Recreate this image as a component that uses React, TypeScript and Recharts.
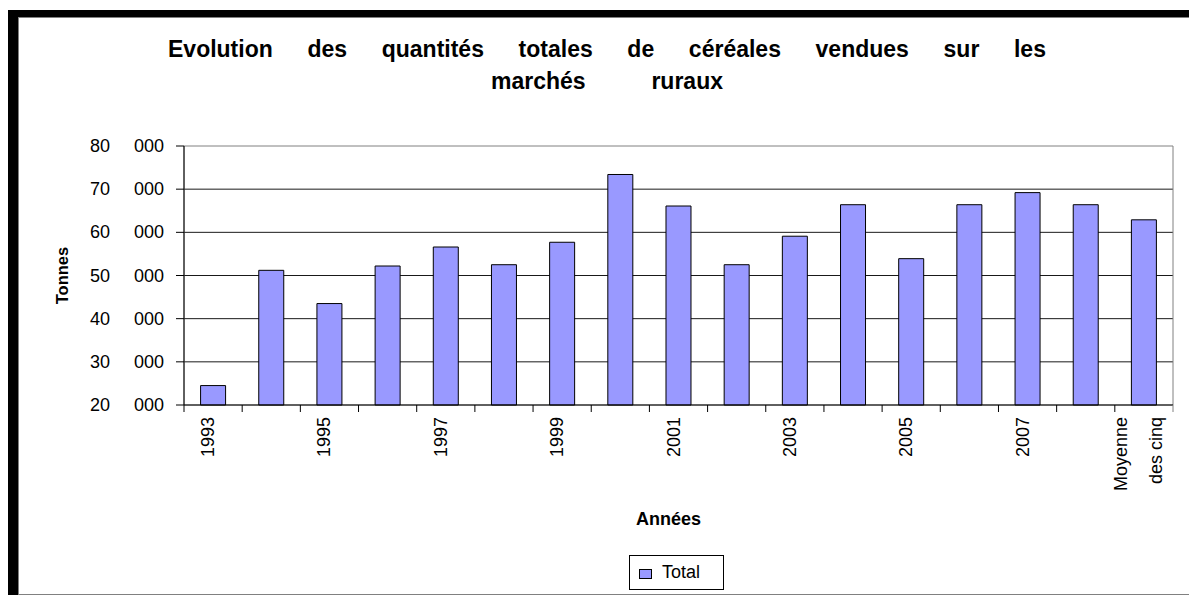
import { BarChart, Bar, XAxis, YAxis, CartesianGrid, ReferenceArea } from 'recharts'

const categories = [
  '1993', '1994', '1995', '1996', '1997', '1998', '1999', '2000', '2001',
  '2002', '2003', '2004', '2005', '2006', '2007', '2008', 'Moyenne des cinq',
]
const totals = [
  24500, 51200, 43500, 52200, 56600, 52500, 57700, 73400, 66100,
  52500, 59100, 66400, 53900, 66400, 69200, 66400, 62900,
]
const yTicks = [20000, 30000, 40000, 50000, 60000, 70000, 80000]
const titleLine1 = ['Evolution', 'des', 'quantités', 'totales', 'de', 'céréales', 'vendues', 'sur', 'les']
const titleLine2 = ['marchés', 'ruraux']
const wrappedLabels: Record<string, string[]> = { 'Moyenne des cinq': ['Moyenne', 'des cinq'] }

const data = categories.map((name, i) => ({ name, Total: totals[i] }))

const W = 1189
const H = 595
const PLOT_LEFT = 184
const PLOT_RIGHT = 1173
const BAND = (PLOT_RIGHT - PLOT_LEFT) / categories.length
const FONT = '"Liberation Sans", Arial, sans-serif'
const BAR_FILL = '#9999ff'

function YTick(props: any) {
  const { x, y, payload } = props
  return (
    <g fontFamily={FONT} fontSize={18} fill="#000">
      <text x={x - 54} y={y} textAnchor="end" dominantBaseline="central">
        {payload.value / 1000}
      </text>
      <text x={x} y={y} textAnchor="end" dominantBaseline="central">
        000
      </text>
    </g>
  )
}

function XTick(props: any) {
  const { x, y, payload, index } = props
  const lines = wrappedLabels[payload.value] || [payload.value]
  const cx = x - 5
  const ty = y + 12
  const isLast = index === categories.length - 1
  return (
    <g>
      <line x1={x - BAND / 2} x2={x - BAND / 2} y1={y} y2={y + 7} stroke="#000" />
      {isLast && <line x1={x + BAND / 2} x2={x + BAND / 2} y1={y} y2={y + 7} stroke="#808080" />}
      {index % 2 === 0 &&
        lines.map((ln, k) => {
          const lx = cx + (k - (lines.length - 1) / 2) * 35
          return (
            <text
              key={k}
              x={lx}
              y={ty}
              transform={`rotate(-90, ${lx}, ${ty})`}
              textAnchor="end"
              dominantBaseline="central"
              fontFamily={FONT}
              fontSize={18}
              fill="#000"
            >
              {ln}
            </text>
          )
        })}
    </g>
  )
}

function LegendBox() {
  return (
    <div
      style={{
        position: 'absolute',
        left: 629,
        top: 555,
        boxSizing: 'border-box',
        width: 95,
        height: 35,
        border: '1px solid #000',
        background: '#fff',
        display: 'flex',
        alignItems: 'center',
        paddingLeft: 9,
        fontFamily: FONT,
        fontSize: 18,
        color: '#000',
      }}
    >
      <span
        style={{
          display: 'inline-block',
          width: 11,
          height: 8,
          background: BAR_FILL,
          border: '1px solid #000',
          marginRight: 10,
          marginTop: 2,
        }}
      />
      Total
    </div>
  )
}

const titleStyle = {
  position: 'absolute' as const,
  display: 'flex',
  justifyContent: 'space-between',
  fontFamily: FONT,
  fontWeight: 'bold' as const,
  fontSize: 23,
  lineHeight: '26px',
  color: '#000',
}

export default function App() {
  return (
    <div style={{ position: 'absolute', left: 0, top: 0, width: W, height: H, overflow: 'hidden', background: '#fff' }}>
      {/* frame */}
      <div
        style={{
          position: 'absolute',
          left: 8,
          top: 10,
          width: W,
          height: H,
          borderLeft: '10px solid #000',
          borderTop: '7px solid #000',
        }}
      />
      <div
        style={{
          position: 'absolute',
          boxSizing: 'border-box',
          left: 18,
          top: 17,
          width: W,
          height: 595 - 17,
          borderLeft: '1px solid #808080',
          borderTop: '1px solid #808080',
          borderBottom: '1px solid #808080',
        }}
      />

      {/* title */}
      <div style={{ ...titleStyle, left: 168, top: 36, width: 878 }}>
        {titleLine1.map((w) => (
          <span key={w}>{w}</span>
        ))}
      </div>
      <div style={{ ...titleStyle, left: 491, top: 68, width: 232 }}>
        {titleLine2.map((w) => (
          <span key={w}>{w}</span>
        ))}
      </div>

      <div style={{ position: 'absolute', left: 0, top: 0 }}>
        <BarChart
          width={W}
          height={H}
          data={data}
          margin={{ top: 146, right: W - PLOT_RIGHT, bottom: 80, left: 84 }}
          barCategoryGap="28.5%"
        >
          <ReferenceArea
            x1={categories[0]}
            x2={categories[categories.length - 1]}
            y1={20000}
            y2={80000}
            stroke="#808080"
            strokeWidth={1}
            fill="none"
            fillOpacity={0}
            ifOverflow="visible"
          />
          <CartesianGrid vertical={false} horizontal stroke="#000" strokeOpacity={0.9} horizontalValues={yTicks.slice(1, -1)} />
          <XAxis
            dataKey="name"
            interval={0}
            height={110}
            tickSize={0}
            tickMargin={0}
            tickLine={false}
            axisLine={{ stroke: '#000' }}
            tick={<XTick />}
            label={{
              value: 'Années',
              position: 'insideBottom',
              offset: 0,
              dy: 10,
              dx: -10,
              style: { fontFamily: FONT, fontWeight: 'bold', fontSize: 18, fill: '#000' },
            }}
          />
          <YAxis
            width={100}
            domain={[20000, 80000]}
            ticks={yTicks}
            interval={0}
            tickSize={8}
            tickMargin={12}
            tickLine={{ stroke: '#000' }}
            axisLine={{ stroke: '#000' }}
            tick={<YTick />}
            label={{
              value: 'Tonnes',
              angle: -90,
              position: 'insideLeft',
              offset: 0,
              dx: -22,
              style: { fontFamily: FONT, fontWeight: 'bold', fontSize: 16.5, fill: '#000', textAnchor: 'middle' },
            }}
          />
          <Bar dataKey="Total" fill={BAR_FILL} stroke="#000" strokeWidth={1} isAnimationActive={false} />
        </BarChart>
      </div>
      <LegendBox />
    </div>
  )
}
